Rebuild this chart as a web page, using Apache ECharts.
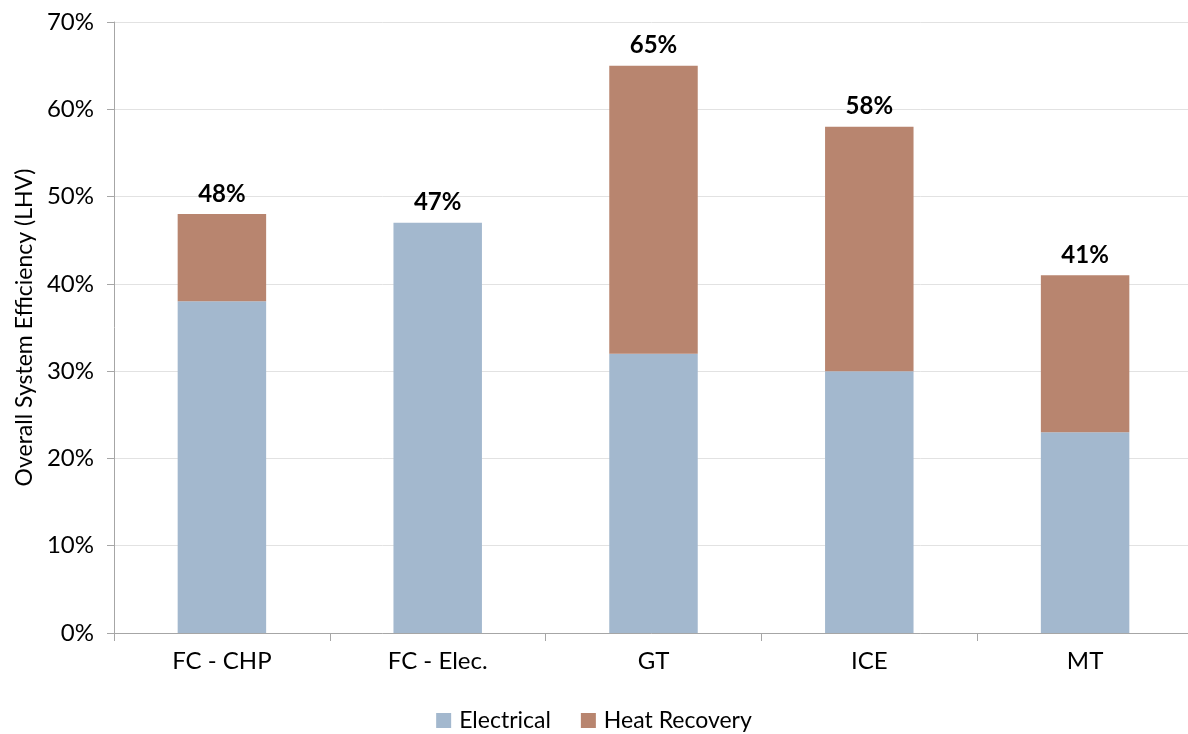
<!DOCTYPE html>
<html>
<head>
<meta charset="utf-8">
<script src="https://cdn.jsdelivr.net/npm/echarts@6/dist/echarts.min.js"></script>
<style>
  html, body { margin: 0; padding: 0; background: #fff; }
  #chart { width: 1188px; height: 734px; }
</style>
</head>
<body>
<div id="chart"></div>
<script>
// Overall system efficiency by technology (percent, LHV basis)
const categories = ['FC - CHP', 'FC - Elec.', 'GT', 'ICE', 'MT'];
const electrical = [38, 47, 32, 30, 23];
const heatRecovery = [10, 0, 33, 28, 18];
const totals = [48, 47, 65, 58, 41];
const yTicks = [0, 10, 20, 30, 40, 50, 60, 70];

const FONT = 'Lato, "Open Sans", sans-serif';

const chart = echarts.init(document.getElementById('chart'));
chart.setOption({
  animation: false,
  textStyle: { fontFamily: FONT },
  grid: { left: 114, right: -5, top: 22, bottom: 101, containLabel: false, outerBoundsMode: 'none' },
  legend: {
    top: 704,
    left: 'center',
    itemWidth: 15,
    itemHeight: 15,
    itemGap: 30,
    icon: 'rect',
    textStyle: { fontFamily: FONT, fontSize: 23, color: '#000', padding: [0, 0, 0, 3] },
    data: ['Electrical', 'Heat Recovery']
  },
  xAxis: {
    type: 'category',
    data: categories,
    axisLine: { lineStyle: { color: '#a6a6a6', width: 1 } },
    axisTick: { show: true, length: 8, lineStyle: { color: '#a6a6a6' } },
    axisLabel: { fontFamily: FONT, fontSize: 24, color: '#000', margin: 16 }
  },
  yAxis: {
    type: 'value',
    min: yTicks[0],
    max: yTicks[yTicks.length - 1],
    interval: 10,
    name: 'Overall System Efficiency (LHV)',
    nameLocation: 'middle',
    nameGap: 78,
    nameTextStyle: { fontFamily: FONT, fontSize: 23, color: '#000' },
    axisLine: { show: true, lineStyle: { color: '#a6a6a6' } },
    axisTick: { show: true, inside: false, length: 7, lineStyle: { color: '#a6a6a6' } },
    axisLabel: { fontFamily: FONT, fontSize: 24, color: '#000', margin: 20, formatter: v => v + '%' },
    splitLine: { lineStyle: { color: '#e2e2e2', width: 1 } }
  },
  series: [
    {
      name: 'Electrical',
      type: 'bar',
      stack: 'total',
      barWidth: '41%',
      itemStyle: { color: '#a3b8ce' },
      data: electrical
    },
    {
      name: 'Heat Recovery',
      type: 'bar',
      stack: 'total',
      barWidth: '41%',
      itemStyle: { color: '#b8856f' },
      data: heatRecovery,
      label: {
        show: true,
        position: 'top',
        distance: 8,
        fontFamily: FONT,
        fontSize: 24,
        fontWeight: 'bold',
        color: '#000',
        formatter: p => totals[p.dataIndex] + '%'
      }
    }
  ]
});
</script>
</body>
</html>
